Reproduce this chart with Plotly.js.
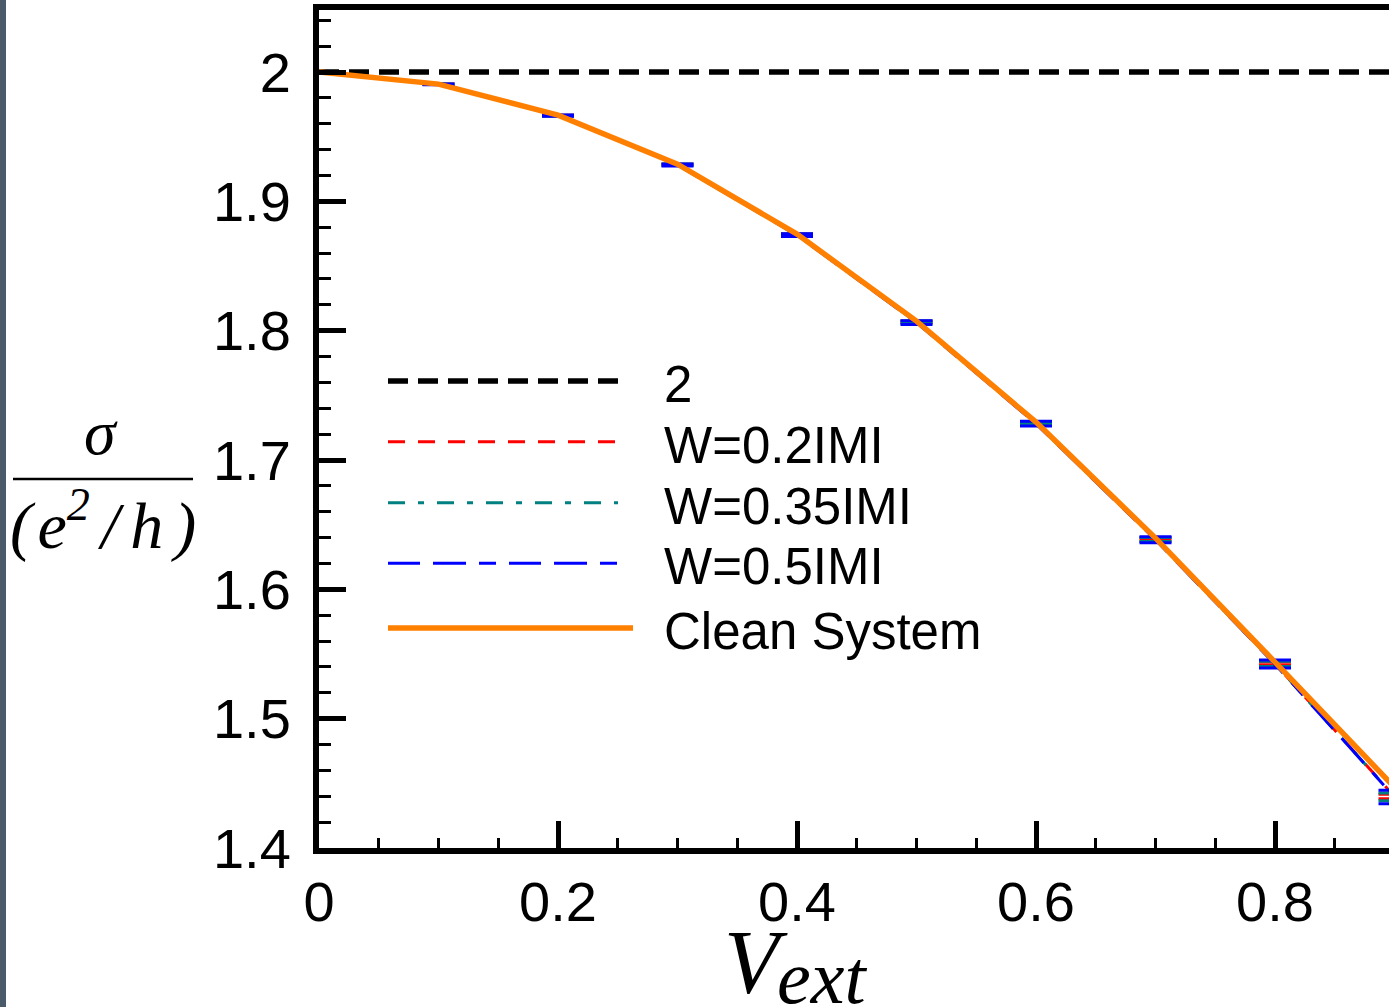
<!DOCTYPE html>
<html>
<head>
<meta charset="utf-8">
<script src="https://cdn.plot.ly/plotly-3.0.1.min.js"></script>
<style>
html,body{margin:0;padding:0;background:#fff;}
#plot{width:1389px;height:1007px;}
</style>
</head>
<body>
<div id="plot"></div>
<script>
// ---- data ----
const vExt = [0, 0.1, 0.2, 0.3, 0.4, 0.5, 0.6, 0.7, 0.8, 0.9];
const refX = [0, 0.9];
const refY = [2, 2];
const cleanSigma = [2.0, 1.9907, 1.9667, 1.9288, 1.8747, 1.8074, 1.7293, 1.6396, 1.5437, 1.4470];
const w02Sigma  = [2.0, 1.9906, 1.9665, 1.9285, 1.8743, 1.8068, 1.7286, 1.6388, 1.5426, 1.4398];
const w02Err    = [0, 0.0001, 0.0002, 0.0003, 0.0004, 0.0005, 0.0007, 0.0009, 0.0012, 0.0018];
const w035Sigma = [2.0, 1.9906, 1.9664, 1.9284, 1.8741, 1.8066, 1.7284, 1.6386, 1.5424, 1.4396];
const w035Err   = [0, 0.0002, 0.0003, 0.0005, 0.0007, 0.0009, 0.0012, 0.0015, 0.0020, 0.0030];
const w05Sigma  = [2.0, 1.9905, 1.9663, 1.9282, 1.8739, 1.8063, 1.7281, 1.6383, 1.5422, 1.4394];
const w05Err    = [0, 0.0003, 0.0005, 0.0008, 0.0011, 0.0014, 0.0018, 0.0023, 0.0031, 0.0052];
const legendNames = ['2', 'W=0.2IMI', 'W=0.35IMI', 'W=0.5IMI', 'Clean System'];

// ---- styles ----
const colors = ['#000000', '#ff0000', '#008080', '#0000ff', '#ff8000'];
const dashes = ['20px,10px', '17px,13px', '17px,13px,6px,13px', '32px,13px,33px,13px,17px,13px', 'solid'];
const widths = [5.5, 3, 3, 3, 5.5];

// pixel -> paper helpers
const W = 1389, H = 1007;
const L = 319, R = 1389, T = 10, B = 848;
const px = x => (x - L) / (R - L);
const py = y => (B - y) / (B - T);

const traces = [
  {x: refX, y: refY, mode: 'lines', line: {color: colors[0], width: widths[0], dash: dashes[0]}, showlegend: false},
  {x: vExt, y: w02Sigma, mode: 'lines', line: {color: colors[1], width: widths[1], dash: dashes[1]},
   error_y: {type: 'data', array: w02Err, visible: true, color: colors[1], thickness: 3, width: 16}, showlegend: false},
  {x: vExt, y: w035Sigma, mode: 'lines', line: {color: colors[2], width: widths[2], dash: dashes[2]},
   error_y: {type: 'data', array: w035Err, visible: true, color: colors[2], thickness: 3, width: 16}, showlegend: false},
  {x: vExt, y: w05Sigma, mode: 'lines', line: {color: colors[3], width: widths[3], dash: dashes[3]},
   error_y: {type: 'data', array: w05Err, visible: true, color: colors[3], thickness: 3, width: 16}, showlegend: false},
  {x: vExt, y: cleanSigma, mode: 'lines', line: {color: colors[4], width: widths[4]}, showlegend: false}
];

// manual legend (long sample lines)
const shapes = [];
const annotations = [];
const rowY = [381, 441.7, 502.7, 563.3, 628];
const lineEnd = [620, 618, 618, 618, 633];
for (let i = 0; i < legendNames.length; i++) {
  shapes.push({type: 'line', xref: 'paper', yref: 'paper',
    x0: px(388), x1: px(lineEnd[i]), y0: py(rowY[i]), y1: py(rowY[i]),
    line: {color: colors[i], width: i === 0 || i === 4 ? 5.5 : 3, dash: dashes[i]}});
  const base = rowY[i] + 21;
  annotations.push({xref: 'paper', yref: 'paper', x: px(662), y: py(base - 0.3465 * 51),
    xanchor: 'left', yanchor: 'middle', showarrow: false, text: legendNames[i],
    font: {family: 'Liberation Sans, Arial, sans-serif', size: 51, color: '#000'}});
}
// left dark strip
shapes.push({type: 'rect', xref: 'paper', yref: 'paper', x0: px(0), x1: px(6), y0: py(0), y1: py(H),
  line: {width: 0}, fillcolor: '#4a5a68', layer: 'above'});
// y-title fraction bar
shapes.push({type: 'line', xref: 'paper', yref: 'paper', x0: px(13), x1: px(193), y0: py(479), y1: py(479),
  line: {color: '#000', width: 2.5}});

const serif = 'Liberation Serif, Times New Roman, serif';
const hs = '\u200A';
annotations.push({xref: 'paper', yref: 'paper', x: px(101), y: py(454 - 0.3375 * 64),
  xanchor: 'center', yanchor: 'middle', showarrow: false, text: '<i>σ</i>',
  font: {family: serif, size: 64, color: '#000'}});
annotations.push({xref: 'paper', yref: 'paper', x: px(103), y: py(543 - 0.3375 * 66),
  xanchor: 'center', yanchor: 'middle', showarrow: false,
  text: '<i>(' + hs + 'e<sup>2</sup>' + hs + hs + '/' + hs + hs + 'h' + hs + hs + ')</i>',
  font: {family: serif, size: 66, color: '#000'}});
annotations.push({xref: 'paper', yref: 'paper', x: px(722), y: py(993 - 0.3375 * 90),
  xanchor: 'left', yanchor: 'middle', showarrow: false, text: '<i>V</i>',
  font: {family: serif, size: 90, color: '#000'}});
annotations.push({xref: 'paper', yref: 'paper', x: px(775), y: py(1003 - 0.3375 * 76),
  xanchor: 'left', yanchor: 'middle', showarrow: false, text: '<i>ext</i>',
  font: {family: serif, size: 76, color: '#000'}});

const tickFont = {family: 'Liberation Sans, Arial, sans-serif', size: 56, color: '#000'};
const layout = {
  width: W, height: H,
  margin: {l: L, r: W - R, t: T, b: H - B, pad: 0},
  paper_bgcolor: '#fff', plot_bgcolor: '#fff',
  showlegend: false,
  xaxis: {
    range: [0, (R - L) / (239 / 0.2)],
    showline: true, linewidth: 6, linecolor: '#000', mirror: true,
    ticks: 'inside', ticklen: 27, tickwidth: 5, tickcolor: '#000',
    tick0: 0, dtick: 0.2, showgrid: false, zeroline: false,
    minor: {ticks: 'inside', dtick: 0.05, ticklen: 10, tickwidth: 3, tickcolor: '#000', showgrid: false},
    tickfont: tickFont
  },
  yaxis: {
    range: [1.4, 2.048],
    showline: true, linewidth: 6, linecolor: '#000', mirror: false,
    ticks: 'inside', ticklen: 27, tickwidth: 5, tickcolor: '#000',
    tick0: 1.4, dtick: 0.1, showgrid: false, zeroline: false,
    ticklabelstandoff: 11,
    minor: {ticks: 'inside', dtick: 0.02, ticklen: 12, tickwidth: 3, tickcolor: '#000', showgrid: false},
    tickfont: tickFont
  },
  shapes: shapes,
  annotations: annotations
};

Plotly.newPlot('plot', traces, layout, {displayModeBar: false, staticPlot: true});
</script>
</body>
</html>
